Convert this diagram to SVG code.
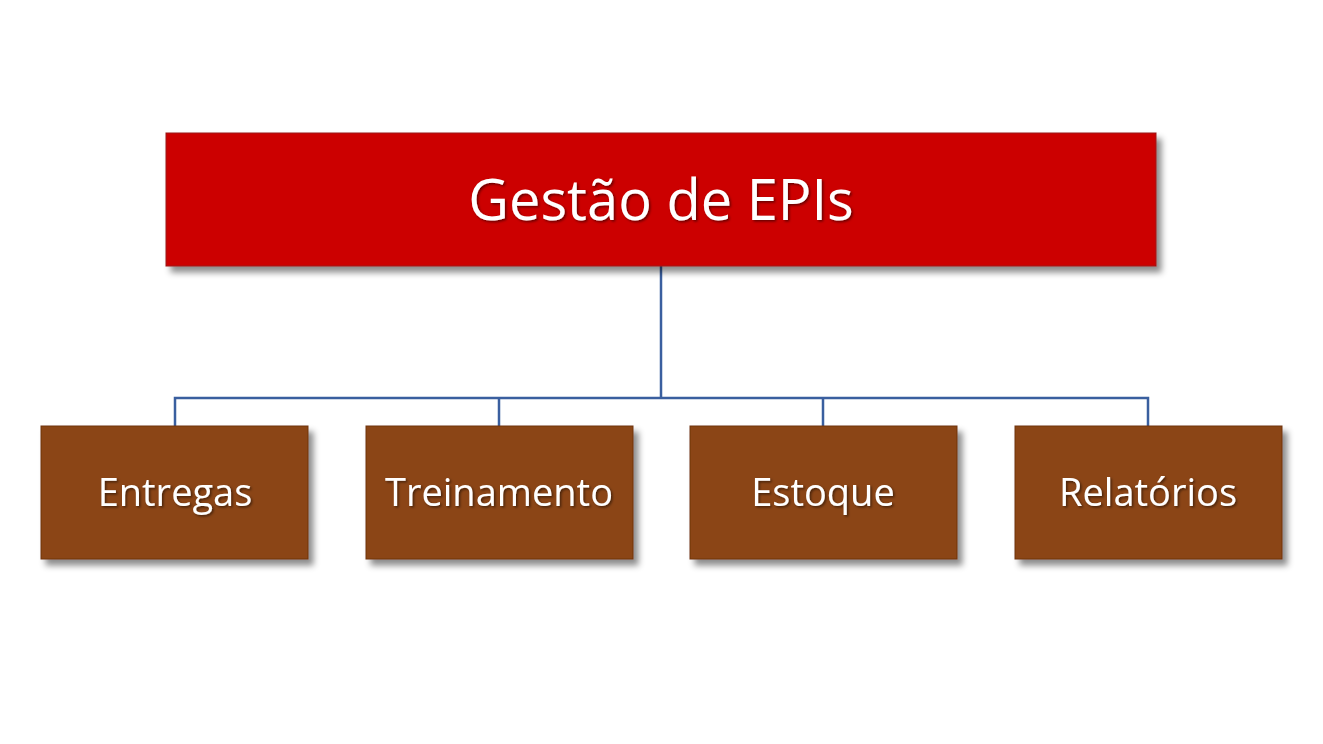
<svg xmlns="http://www.w3.org/2000/svg" width="1323" height="744" viewBox="0 0 1323 744">
<style>
.t{font-family:"Open Sans","Noto Sans",sans-serif;fill:#fff;text-anchor:middle}
.c{fill:none;stroke:#3A5F9F;stroke-width:2.5}
.b{fill:#8B4513;stroke:#6e3510;stroke-width:1}
</style>
<defs>
<filter id="s" x="-10%" y="-10%" width="130%" height="140%"><feDropShadow dx="5" dy="6" stdDeviation="3" flood-color="#000" flood-opacity="0.45"/></filter>
<filter id="ts"><feDropShadow dx="1.5" dy="1.5" stdDeviation="1" flood-color="#000" flood-opacity="0.5"/></filter>
</defs>
<rect width="1323" height="744" fill="#fff"/>
<g id="connectors">
<path class="c" d="M661 266V398M175 426V398H1148V426M499 398V426M823 398V426"/>
</g>
<g id="root"><rect x="166" y="133" width="990" height="133" fill="#CC0404" stroke="#9a1010" filter="url(#s)"/><text class="t" x="661" y="220" font-size="56" filter="url(#ts)">Gestão de EPIs</text></g>
<g id="n1"><rect class="b" x="41" y="426" width="267" height="133" filter="url(#s)"/><text class="t" x="175" y="506" font-size="38" filter="url(#ts)">Entregas</text></g>
<g id="n2"><rect class="b" x="366" y="426" width="267" height="133" filter="url(#s)"/><text class="t" x="499" y="506" font-size="38" filter="url(#ts)">Treinamento</text></g>
<g id="n3"><rect class="b" x="690" y="426" width="267" height="133" filter="url(#s)"/><text class="t" x="823" y="506" font-size="38" filter="url(#ts)">Estoque</text></g>
<g id="n4"><rect class="b" x="1015" y="426" width="267" height="133" filter="url(#s)"/><text class="t" x="1148" y="506" font-size="38" filter="url(#ts)">Relatórios</text></g>
</svg>
